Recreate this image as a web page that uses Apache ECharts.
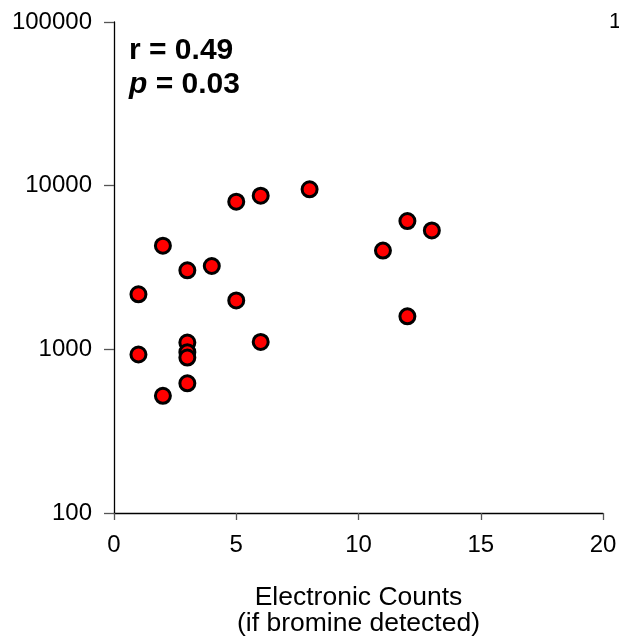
<!DOCTYPE html>
<html>
<head>
<meta charset="utf-8">
<script src="https://cdn.jsdelivr.net/npm/echarts@6/dist/echarts.min.js"></script>
<style>
  html, body { margin: 0; padding: 0; background: #fff; }
  #chart { width: 619px; height: 637px; }
</style>
</head>
<body>
<div id="chart"></div>
<script>
// Electronic counts (x) vs. measured value on log scale (y)
const xCounts = [1, 1, 2, 2, 3, 3, 3, 3, 3, 4, 5, 5, 6, 6, 8, 11, 12, 12, 13];
const yValues = [2170, 930, 4300, 520, 3040, 1100, 960, 890, 620, 3230, 7980, 1990, 8690, 1110, 9500, 4010, 6080, 1590, 5330];
const xTicks = [0, 5, 10, 15, 20];
const yTicks = [100, 1000, 10000, 100000];
const statLines = ["r = 0.49", "p = 0.03"];

const FONT = '"Liberation Sans", Arial, sans-serif';

const points = xCounts.map((x, i) => [x, yValues[i]]);

const chart = echarts.init(document.getElementById("chart"));
chart.setOption({
  animation: false,
  backgroundColor: "#fff",
  grid: { left: 114, right: 16, top: 22, bottom: 124, outerBoundsMode: "none", containLabel: false },
  xAxis: {
    type: "value",
    min: xTicks[0],
    max: xTicks[xTicks.length - 1],
    interval: 5,
    splitLine: { show: false },
    axisLine: { lineStyle: { color: "#000", width: 1.3 } },
    axisTick: { inside: false, length: 7, lineStyle: { color: "#555", width: 1.3 } },
    axisLabel: { color: "#000", fontFamily: FONT, fontSize: 24, margin: 20 },
    name: "Electronic Counts\n(if bromine detected)",
    nameLocation: "middle",
    nameGap: 72,
    nameTextStyle: { color: "#000", fontFamily: FONT, fontSize: 26.5, lineHeight: 26 }
  },
  yAxis: {
    type: "log",
    logBase: 10,
    min: yTicks[0],
    max: yTicks[yTicks.length - 1],
    splitLine: { show: false },
    minorTick: { show: false },
    axisLine: { show: true, lineStyle: { color: "#000", width: 1.3 } },
    axisTick: { show: true, inside: false, length: 10, lineStyle: { color: "#555", width: 1.3 } },
    axisLabel: { color: "#000", fontFamily: FONT, fontSize: 24, margin: 22, formatter: (v) => String(v) }
  },
  graphic: [
    {
      type: "text",
      left: 129,
      top: 36,
      style: {
        text: "{b|" + statLines[0] + "}\n{i|p}{b|" + statLines[1].slice(1) + "}",
        rich: {
          b: { fontFamily: FONT, fontSize: 30, fontWeight: "bold", fill: "#000", lineHeight: 34 },
          i: { fontFamily: FONT, fontSize: 30, fontWeight: "bold", fontStyle: "italic", fill: "#000", lineHeight: 34 }
        }
      }
    },
    {
      type: "text",
      left: 609,
      top: 11,
      style: { text: "1", fontFamily: FONT, fontSize: 22, fill: "#000" }
    }
  ],
  series: [
    {
      type: "scatter",
      data: points,
      symbol: "circle",
      symbolSize: 15,
      itemStyle: { color: "#ff0000", borderColor: "#000", borderWidth: 3, opacity: 1 }
    }
  ]
});
</script>
</body>
</html>
